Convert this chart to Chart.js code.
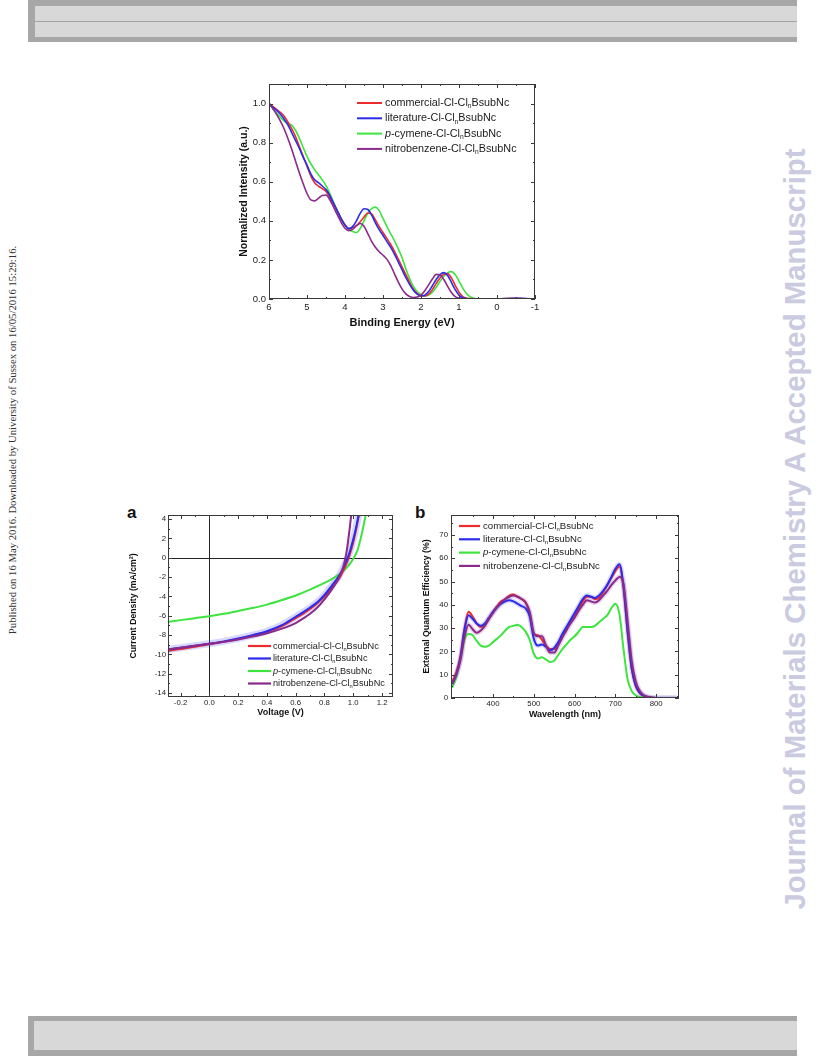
<!DOCTYPE html>
<html><head><meta charset="utf-8">
<script src="https://cdn.jsdelivr.net/npm/chart.js@4.4.0/dist/chart.umd.min.js"></script>
<style>
html,body{margin:0;padding:0;background:#fff;}
body{width:816px;height:1056px;position:relative;overflow:hidden;font-family:"Liberation Sans",Arial,sans-serif;}
.abs{position:absolute;}
canvas{position:absolute;}
</style></head><body>
<div class="abs" style="left:28px;top:0;width:769px;height:42px;background:#a7a7a7"></div>
<div class="abs" style="left:35px;top:6px;width:762px;height:31px;background:#d8d8d8"></div>
<div class="abs" style="left:35px;top:21px;width:762px;height:1px;background:#a2a2a2"></div>
<div class="abs" style="left:28px;top:1016px;width:769px;height:40px;background:#a7a7a7"></div>
<div class="abs" style="left:34px;top:1021px;width:763px;height:29px;background:#d8d8d8"></div>
<div class="abs" style="left:12px;top:440px;transform:translate(-50%,-50%) rotate(-90deg);white-space:nowrap;font-family:'Liberation Serif','Times New Roman',serif;font-size:10.7px;color:#333">Published on 16 May 2016. Downloaded by University of Sussex on 16/05/2016 15:29:16.</div>
<div class="abs" style="left:795px;top:529px;transform:translate(-50%,-50%) rotate(-90deg);white-space:nowrap;font-family:'Liberation Sans',Arial,sans-serif;font-weight:bold;font-size:29.4px;color:#cacae0">Journal of Materials Chemistry A Accepted Manuscript</div>
<div class="abs" style="left:127px;top:504px;font:bold 17px/17px 'Liberation Sans',Arial,sans-serif;color:#111">a</div>
<div class="abs" style="left:415px;top:504px;font:bold 17px/17px 'Liberation Sans',Arial,sans-serif;color:#111">b</div>
<canvas id="c1" width="330" height="263" style="left:226px;top:75px"></canvas>
<canvas id="c2" width="295" height="225" style="left:110px;top:505px"></canvas>
<canvas id="c3" width="290" height="225" style="left:405px;top:505px"></canvas>
<script>
// ---------- data: valence band (binding energy) ----------
const energy = [6.0,5.9,5.8,5.7,5.6,5.5,5.4,5.3,5.2,5.1,5.0,4.9,4.8,4.7,4.6,4.5,4.4,4.3,4.2,4.1,4.0,3.9,3.8,3.7,3.6,3.5,3.4,3.3,3.2,3.1,3.0,2.9,2.8,2.7,2.6,2.5,2.4,2.3,2.2,2.1,2.0,1.9,1.8,1.7,1.6,1.5,1.4,1.3,1.2,1.1,1.0,0.9,0.8,0.7,0.6,0.5,0.0,-0.5,-1.0];
const xpsCommercial = [1.0,0.985,0.97,0.955,0.935,0.905,0.87,0.83,0.78,0.73,0.68,0.63,0.595,0.578,0.565,0.55,0.52,0.485,0.45,0.41,0.38,0.36,0.365,0.375,0.395,0.42,0.44,0.435,0.405,0.37,0.34,0.31,0.28,0.245,0.205,0.165,0.125,0.085,0.05,0.028,0.018,0.016,0.025,0.048,0.08,0.108,0.127,0.13,0.108,0.07,0.035,0.012,0.004,0.002,0.001,0,0,0.002,0];
const xpsLiterature = [1.0,0.98,0.965,0.945,0.92,0.89,0.85,0.81,0.77,0.725,0.685,0.64,0.61,0.595,0.578,0.56,0.53,0.49,0.45,0.41,0.378,0.36,0.37,0.4,0.438,0.462,0.458,0.43,0.39,0.355,0.325,0.295,0.265,0.23,0.19,0.15,0.11,0.075,0.045,0.025,0.016,0.02,0.038,0.068,0.1,0.125,0.135,0.12,0.085,0.048,0.02,0.006,0.002,0.001,0,0,0,0.004,0];
const xpsCymene = [1.0,0.975,0.952,0.93,0.91,0.898,0.888,0.862,0.822,0.775,0.73,0.692,0.662,0.636,0.61,0.58,0.54,0.495,0.452,0.412,0.378,0.356,0.345,0.34,0.36,0.4,0.44,0.462,0.47,0.452,0.412,0.372,0.335,0.298,0.258,0.212,0.155,0.105,0.065,0.038,0.022,0.016,0.02,0.035,0.06,0.09,0.116,0.134,0.14,0.125,0.092,0.056,0.027,0.011,0.004,0.001,0,0,0];
const xpsNitro = [1.0,0.975,0.945,0.91,0.87,0.82,0.765,0.705,0.645,0.59,0.54,0.507,0.502,0.515,0.53,0.532,0.508,0.47,0.43,0.392,0.362,0.35,0.356,0.375,0.386,0.372,0.335,0.295,0.265,0.242,0.224,0.204,0.172,0.13,0.088,0.052,0.026,0.013,0.008,0.01,0.02,0.042,0.072,0.102,0.126,0.124,0.1,0.065,0.033,0.012,0.004,0.001,0,0,0,0,0,0.004,0];
const bindingTicks = [6,5,4,3,2,1,0,-1];
const bindingMinor = [5.5,4.5,3.5,2.5,1.5,0.5,-0.5];
const intensityTicks = [0,0.2,0.4,0.6,0.8,1.0];
const intensityMinor = [0.1,0.3,0.5,0.7,0.9];

// ---------- data: J-V ----------
const voltage = [-0.3,-0.2,-0.1,0,0.1,0.2,0.3,0.4,0.5,0.6,0.65,0.7,0.75,0.8,0.85,0.9,0.925,0.95,0.975,1.0,1.025,1.05,1.075,1.1,1.125];
const jvCommercial = [-9.65,-9.45,-9.2,-8.95,-8.7,-8.4,-8.05,-7.65,-7.1,-6.25,-5.8,-5.3,-4.7,-4.0,-3.15,-2.2,-1.5,-0.7,0.3,1.6,3.3,5.3,7.5,10,12];
const jvLiterature = [-9.5,-9.3,-9.1,-8.9,-8.65,-8.35,-8.0,-7.6,-7.0,-6.1,-5.65,-5.15,-4.6,-3.85,-2.9,-1.9,-1.2,-0.4,0.6,1.9,3.5,5.5,7.8,10,12];
const jvCymene = [-6.65,-6.45,-6.25,-6.05,-5.8,-5.5,-5.2,-4.85,-4.4,-3.9,-3.6,-3.3,-2.95,-2.6,-2.2,-1.75,-1.45,-1.1,-0.65,-0.1,0.6,1.9,3.6,5.5,7.5];
const jvNitro = [-9.5,-9.3,-9.1,-8.9,-8.7,-8.45,-8.15,-7.8,-7.35,-6.75,-6.3,-5.8,-5.15,-4.3,-3.3,-2.1,-1.2,0.3,3.0,6.5,10,13,16,19,22];
const voltageTicks = [-0.2,0,0.2,0.4,0.6,0.8,1.0,1.2];
const voltageMinor = [-0.1,0.1,0.3,0.5,0.7,0.9,1.1];
const currentTicks = [4,2,0,-2,-4,-6,-8,-10,-12,-14];
const currentMinor = [3,1,-1,-3,-5,-7,-9,-11,-13];

// ---------- data: EQE ----------
const wavelength = [300,310,320,330,340,350,360,370,380,390,400,410,420,430,440,450,460,470,480,490,500,510,520,530,540,550,560,570,580,590,600,610,620,630,640,650,660,670,680,690,700,710,720,730,740,750,760,770,780,800,820,850];
const eqeCommercial = [7,11,18,30,37,35,32,30.5,31.5,34,37,39.5,41.5,42.5,44,44.5,43.5,42.5,41,36,27.5,27,25,22.5,21,21,23.5,27,30,32.5,35,38.5,41.5,43.5,43.5,42.5,43,45.5,48.5,51.5,54.5,56.5,47,28,12.5,5,2,0.8,0.3,0,0,0];
const eqeLiterature = [6,10,17,29,35.5,34,32,31,32,34.5,37,39,40.5,41.5,42,41.5,40.5,39.5,38.5,35,25.5,22.5,23,22,20.5,21.5,24,27.5,30.5,33.5,36.5,39.5,42.5,44,43.5,43,44,46,48.5,52,55.5,57.5,48,29,13,5.5,2.2,1,0.4,0,0,0];
const eqeCymene = [4.5,9,17,25,27.5,27,24.5,22.5,22,22.5,24,25.5,27,29,30.5,31,31.5,30.5,28.5,25,19,17,17.5,16.5,15.5,16,18.5,21,23,25,26.5,28.5,30.5,30.5,30.5,31,32.5,34,35.5,38.5,40.5,36,21,8,3,1.2,0.5,0.2,0,0,0,0];
const eqeNitro = [6,10,16,26,31.5,29.5,28,29,31,34,36.5,39,41,42.5,43.5,44,43.5,42.5,41,37,28,26.5,26.5,22.5,19.5,19.5,22.5,26,29,32,34.5,37.5,40,42,41.5,41,42,44,46,48.5,50.5,52,49,33,16,7,3,1.2,0.5,0,0,0];
const wavelengthTicks = [400,500,600,700,800];
const wavelengthMinor = [350,450,550,650,750,850];
const eqeTicks = [0,10,20,30,40,50,60,70];
const eqeMinor = [5,15,25,35,45,55,65,75];

const seriesNames = ['commercial','literature','p-cymene','nitrobenzene'];

// ---------- styles ----------
const FONT = "'Liberation Sans', Arial, sans-serif";
const COLORS = ['#ee2b2b','#2b2bee','#3de43d','#8a2a8a'];
const DRAW_ORDER = [3,2,4,1];

function legendParts(name){
  if (name === 'p-cymene') return [{t:'p',it:true},{t:'-cymene-Cl-Cl'},{t:'n',sub:true},{t:'BsubNc'}];
  return [{t:name+'-Cl-Cl'},{t:'n',sub:true},{t:'BsubNc'}];
}
function drawRich(ctx, x, y, parts, size){
  for (const p of parts){
    const s = p.sub ? size*0.62 : size;
    ctx.font = (p.it ? 'italic ' : '') + s + 'px ' + FONT;
    ctx.fillText(p.t, x, y + (p.sub ? size*0.32 : 0));
    x += ctx.measureText(p.t).width;
  }
}
function makeDatasets(xs, series, width, bands){
  const ds = series.map((arr,i)=>({
    label: seriesNames[i],
    data: xs.map((x,j)=>({x:x, y:arr[j]})),
    borderColor: COLORS[i], backgroundColor: COLORS[i],
    borderWidth: width, pointRadius: 0, fill:false,
    cubicInterpolationMode:'monotone', order: DRAW_ORDER[i]
  }));
  (bands||[]).forEach(b=>{
    ds.push({label:'_band', data: xs.map((x,j)=>({x:x, y:series[b.i][j]})),
      borderColor:b.color, borderWidth:b.width, pointRadius:0, fill:false,
      cubicInterpolationMode:'monotone', order: 10});
  });
  return ds;
}
function framePlugin(cfg){
  return {id:'frame', afterDatasetsDraw(chart){
    const {ctx, chartArea:a, scales:{x,y}} = chart;
    ctx.save();
    ctx.strokeStyle = '#3a3a3a'; ctx.lineWidth = 1;
    ctx.strokeRect(a.left+0.5, a.top+0.5, a.right-a.left-1, a.bottom-a.top-1);
    ctx.beginPath();
    const tx = (vals,len)=>vals.forEach(v=>{const p=Math.round(x.getPixelForValue(v))+0.5;
      ctx.moveTo(p,a.bottom); ctx.lineTo(p,a.bottom-len); ctx.moveTo(p,a.top); ctx.lineTo(p,a.top+len);});
    const ty = (vals,len)=>vals.forEach(v=>{const p=Math.round(y.getPixelForValue(v))+0.5;
      ctx.moveTo(a.left,p); ctx.lineTo(a.left+len,p); ctx.moveTo(a.right,p); ctx.lineTo(a.right-len,p);});
    tx(cfg.xMajor,4); tx(cfg.xMinor,2); ty(cfg.yMajor,4); ty(cfg.yMinor,2);
    ctx.stroke();
    ctx.restore();
  }};
}
function legendPlugin(cfg){
  return {id:'richLegend', afterDraw(chart){
    const {ctx, chartArea:a} = chart;
    ctx.save();
    ctx.textBaseline = 'middle'; ctx.fillStyle = '#1a1a1a';
    seriesNames.forEach((n,i)=>{
      const y = a.top + cfg.y0 + i*cfg.dy;
      const x = a.left + cfg.x0;
      ctx.strokeStyle = chart.data.datasets[i].borderColor; ctx.lineWidth = cfg.lw;
      ctx.beginPath(); ctx.moveTo(x,y); ctx.lineTo(x+cfg.len,y); ctx.stroke();
      drawRich(ctx, x+cfg.len+cfg.gap, y, legendParts(n), cfg.size);
    });
    ctx.restore();
  }};
}
const zeroLines = {id:'zeroLines', beforeDatasetsDraw(chart){
  const {ctx, chartArea:a, scales:{x,y}} = chart;
  ctx.save(); ctx.strokeStyle='#222'; ctx.lineWidth=1; ctx.beginPath();
  const px = Math.round(x.getPixelForValue(0))+0.5, py = Math.round(y.getPixelForValue(0))+0.5;
  ctx.moveTo(px,a.top); ctx.lineTo(px,a.bottom); ctx.moveTo(a.left,py); ctx.lineTo(a.right,py);
  ctx.stroke(); ctx.restore();
}};
function axis(o){
  return {
    type:'linear', min:o.min, max:o.max, reverse:!!o.reverse,
    afterBuildTicks: s=>{ s.ticks = o.ticks.map(v=>({value:v})); },
    afterFit: s=>{ if (o.w!==undefined) s.width=o.w; if (o.h!==undefined) s.height=o.h; },
    grid:{display:false, drawTicks:false}, border:{display:false},
    ticks:{padding:o.pad, autoSkip:false, maxRotation:0, color:'#222', font:{size:o.fs, family:FONT}, callback:o.fmt},
    title:{display:true, text:o.title, color:'#111', font:{size:o.tfs, weight:'bold', family:FONT}, padding:o.tpad}
  };
}
const base = {responsive:false, animation:false, events:[], plugins:{legend:{display:false}, tooltip:{enabled:false}}};

// ---------- chart 1: XPS ----------
new Chart(document.getElementById('c1'), {
  type:'line',
  data:{datasets: makeDatasets(energy,[xpsCommercial,xpsLiterature,xpsCymene,xpsNitro],1.6)},
  options: Object.assign({}, base, {
    layout:{padding:{left:0,top:9,right:21,bottom:0}},
    scales:{
      x: axis({min:-1,max:6,reverse:true,ticks:bindingTicks,h:39,pad:3,fs:9.5,fmt:v=>String(v),title:'Binding Energy (eV)',tfs:11,tpad:{top:0,bottom:8.4}}),
      y: axis({min:0,max:1.1,ticks:intensityTicks,w:43,pad:3,fs:9.5,fmt:v=>v.toFixed(1),title:'Normalized Intensity (a.u.)',tfs:10.5,tpad:{top:11.7,bottom:0}})
    }
  }),
  plugins:[framePlugin({xMajor:bindingTicks,xMinor:bindingMinor,yMajor:intensityTicks,yMinor:intensityMinor}),
           legendPlugin({x0:88,y0:19,dy:15.3,len:25,gap:3,size:10.8,lw:2})]
});

// ---------- chart 2: J-V ----------
new Chart(document.getElementById('c2'), {
  type:'line',
  data:{datasets: makeDatasets(voltage,[jvCommercial,jvLiterature,jvCymene,jvNitro],2,[{i:1,color:'rgba(90,90,255,0.25)',width:7}])},
  options: Object.assign({}, base, {
    layout:{padding:{left:0,top:10,right:12,bottom:0}},
    scales:{
      x: axis({min:-0.287,max:1.276,ticks:voltageTicks,h:33,pad:1.5,fs:7.8,fmt:v=>v.toFixed(1),title:'Voltage (V)',tfs:9,tpad:{top:0,bottom:11.6}}),
      y: axis({min:-14.4,max:4.42,ticks:currentTicks,w:58,pad:2,fs:7.8,fmt:v=>String(v),title:'Current Density (mA/cm\u00B2)',tfs:8.7,tpad:{top:18.8,bottom:0}})
    }
  }),
  plugins:[zeroLines, framePlugin({xMajor:voltageTicks,xMinor:voltageMinor,yMajor:currentTicks,yMinor:currentMinor}),
           legendPlugin({x0:80,y0:131,dy:12.5,len:23,gap:2,size:9.2,lw:2.2})]
});

// ---------- chart 3: EQE ----------
new Chart(document.getElementById('c3'), {
  type:'line',
  data:{datasets: makeDatasets(wavelength,[eqeCommercial,eqeLiterature,eqeCymene,eqeNitro],2,
        [{i:1,color:'rgba(90,90,255,0.22)',width:5},{i:3,color:'rgba(150,70,150,0.22)',width:5}])},
  options: Object.assign({}, base, {
    layout:{padding:{left:0,top:10,right:16,bottom:0}},
    scales:{
      x: axis({min:297,max:856,ticks:wavelengthTicks,h:32,pad:1,fs:7.8,fmt:v=>String(v),title:'Wavelength (nm)',tfs:9,tpad:{top:0,bottom:9.6}}),
      y: axis({min:0,max:78.6,ticks:eqeTicks,w:46,pad:3,fs:7.8,fmt:v=>String(v),title:'External Quantum Efficiency (%)',tfs:8.7,tpad:{top:16.5,bottom:0}})
    }
  }),
  plugins:[framePlugin({xMajor:wavelengthTicks,xMinor:wavelengthMinor,yMajor:eqeTicks,yMinor:eqeMinor}),
           legendPlugin({x0:8,y0:11,dy:13.3,len:21,gap:3,size:9.6,lw:2.2})]
});
</script>
</body></html>
